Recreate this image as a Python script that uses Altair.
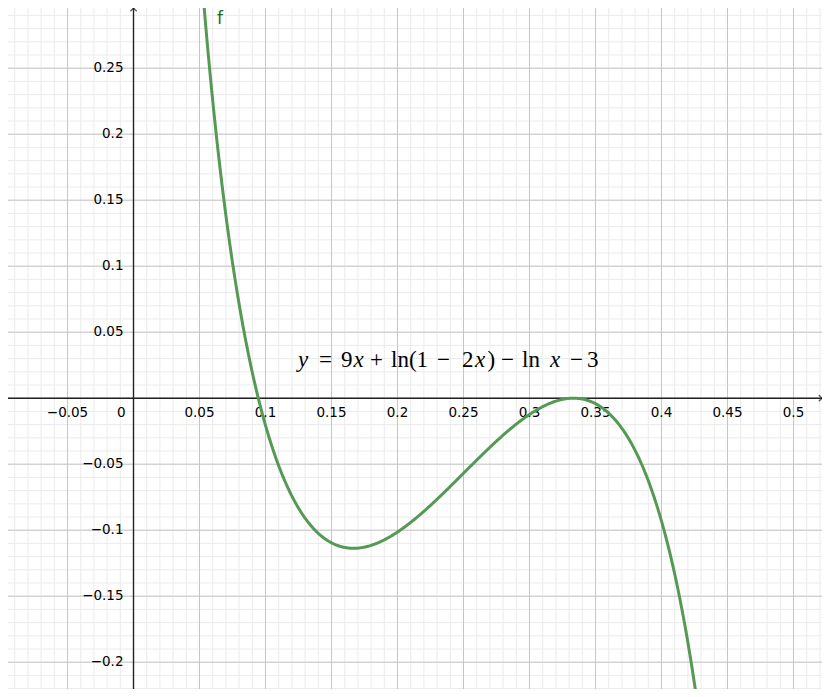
import altair as alt
import numpy as np
import pandas as pd

# ---- data ----
x_tick_values = [-0.05, 0.05, 0.1, 0.15, 0.2, 0.25, 0.3, 0.35, 0.4, 0.45, 0.5]
x_tick_labels = ["\u22120.05", "0.05", "0.1", "0.15", "0.2", "0.25", "0.3", "0.35", "0.4", "0.45", "0.5"]
y_tick_values = [-0.2, -0.15, -0.1, -0.05, 0.05, 0.1, 0.15, 0.2, 0.25]
y_tick_labels = ["\u22120.2", "\u22120.15", "\u22120.1", "\u22120.05", "0.05", "0.1", "0.15", "0.2", "0.25"]
major_step = 0.05
minor_step = 0.01
func_name = "f"

# equation "y = 9x + ln(1 − 2x) − ln x − 3", split into upright / italic pieces
eq_text = ["y", "=", "9", "x", "+", "ln(1", "\u2212", "2", "x", ")", "\u2212", "ln", "x", "\u2212", "3"]
eq_italic = [True, False, False, True, False, False, False, False, True, False, False, False, True, False, False]
eq_offset_px = [-1, 20, 42, 54.5, 71, 92, 138, 163, 176, 188.5, 202, 223, 251, 271, 288]

# view window (equal scaling, like the GeoGebra graphics view)
PX_PER_UNIT = 1320.0
XMIN, XMAX = -0.09508, 0.52159
YMIN, YMAX = -0.22030, 0.29561
W, H = 814, 681

# the plotted function, as stated on the chart
curve_x = np.linspace(0.045, 0.44, 600)
curve_y = 9 * curve_x + np.log(1 - 2 * curve_x) - np.log(curve_x) - 3
curve = pd.DataFrame({"x": curve_x, "y": curve_y})

xs = alt.Scale(domain=[XMIN, XMAX], nice=False, zero=False)
ys = alt.Scale(domain=[YMIN, YMAX], nice=False, zero=False)
X = lambda f: alt.X(f, scale=xs, axis=None)
Y = lambda f: alt.Y(f, scale=ys, axis=None)

minor_x = pd.DataFrame({"v": np.round(np.arange(-0.09, 0.53, minor_step), 4)})
minor_y = pd.DataFrame({"v": np.round(np.arange(-0.22, 0.30, minor_step), 4)})
major_x = pd.DataFrame({"v": np.round(np.arange(-0.05, 0.53, major_step), 4)})
major_y = pd.DataFrame({"v": np.round(np.arange(-0.20, 0.30, major_step), 4)})

def vrules(df, color, width):
    return alt.Chart(df).mark_rule(color=color, strokeWidth=width).encode(x=X("v:Q"))

def hrules(df, color, width):
    return alt.Chart(df).mark_rule(color=color, strokeWidth=width).encode(y=Y("v:Q"))

grid = (vrules(minor_x, "#ebebeb", 1) + hrules(minor_y, "#ebebeb", 1)
        + vrules(major_x, "#c6c6c6", 1) + hrules(major_y, "#c6c6c6", 1))

origin = pd.DataFrame({"x": [0.0], "y": [0.0]})
axis_y = alt.Chart(origin).mark_rule(color="#222222", strokeWidth=1.4).encode(x=X("x:Q"))
axis_x = alt.Chart(origin).mark_rule(color="#222222", strokeWidth=1.4).encode(y=Y("y:Q"))

arrow_up = alt.Chart(pd.DataFrame({"x": [0.0], "y": [YMAX]})).mark_point(
    shape="M-1,1L0,0L1,1", size=40, filled=False, stroke="#222222", strokeWidth=1.4
).encode(x=X("x:Q"), y=Y("y:Q"))
arrow_right = alt.Chart(pd.DataFrame({"x": [XMAX], "y": [0.0]})).mark_point(
    shape="M-1,-1L0,0L-1,1", size=40, filled=False, stroke="#222222", strokeWidth=1.4
).encode(x=X("x:Q"), y=Y("y:Q"))

xlab_df = pd.DataFrame({"x": x_tick_values, "y": [0.0] * len(x_tick_values), "t": x_tick_labels})
ylab_df = pd.DataFrame({"x": [0.0] * len(y_tick_values), "y": y_tick_values, "t": y_tick_labels})

font = "DejaVu Sans"
xlabels = alt.Chart(xlab_df).mark_text(
    font=font, fontSize=13.5, color="#000000", align="center", baseline="middle", dy=15
).encode(x=X("x:Q"), y=Y("y:Q"), text="t:N")
ylabels = alt.Chart(ylab_df).mark_text(
    font=font, fontSize=13.5, color="#000000", align="right", baseline="middle", dx=-10
).encode(x=X("x:Q"), y=Y("y:Q"), text="t:N")
zero_label = alt.Chart(pd.DataFrame({"x": [0.0], "y": [0.0], "t": ["0"]})).mark_text(
    font=font, fontSize=13.5, color="#000000", align="right", baseline="middle", dx=-8, dy=15
).encode(x=X("x:Q"), y=Y("y:Q"), text="t:N")

line = alt.Chart(curve).mark_line(color="#559955", strokeWidth=3, clip=True).encode(
    x=X("x:Q"), y=Y("y:Q"))

name_label = alt.Chart(pd.DataFrame({"x": [0.0655], "y": [YMAX], "t": [func_name]})).mark_text(
    font=font, fontSize=17, color="#1a6e1a", align="center", baseline="top", dy=3
).encode(x=X("x:Q"), y=Y("y:Q"), text="t:N")

# equation pieces: start at page pixel 299 (data x = (299-133.5)/1320), baseline at 0.024
eq_x0 = (299 - 133.5) / PX_PER_UNIT
eq_df = pd.DataFrame({
    "x": [eq_x0 + o / PX_PER_UNIT for o in eq_offset_px],
    "y": [0.0240] * len(eq_text),
    "t": eq_text,
    "style": ["italic" if i else "normal" for i in eq_italic],
})
eq_upright = alt.Chart(eq_df).transform_filter(alt.datum.style == "normal").mark_text(
    font="Liberation Serif", fontSize=23, color="#000000", align="left", baseline="alphabetic"
).encode(x=X("x:Q"), y=Y("y:Q"), text="t:N")
eq_ital = alt.Chart(eq_df).transform_filter(alt.datum.style == "italic").mark_text(
    font="Liberation Serif", fontSize=23, fontStyle="italic", color="#000000", align="left",
    baseline="alphabetic"
).encode(x=X("x:Q"), y=Y("y:Q"), text="t:N")

chart = alt.layer(
    grid, axis_x, axis_y, arrow_up, arrow_right, xlabels, ylabels, zero_label,
    line, name_label, eq_upright, eq_ital
).properties(
    width=W, height=H, padding=0, autosize=alt.AutoSizeParams(type="none")
).configure_view(stroke=None)

chart.save("out.html", embed_options={"renderer": "svg", "actions": False})
